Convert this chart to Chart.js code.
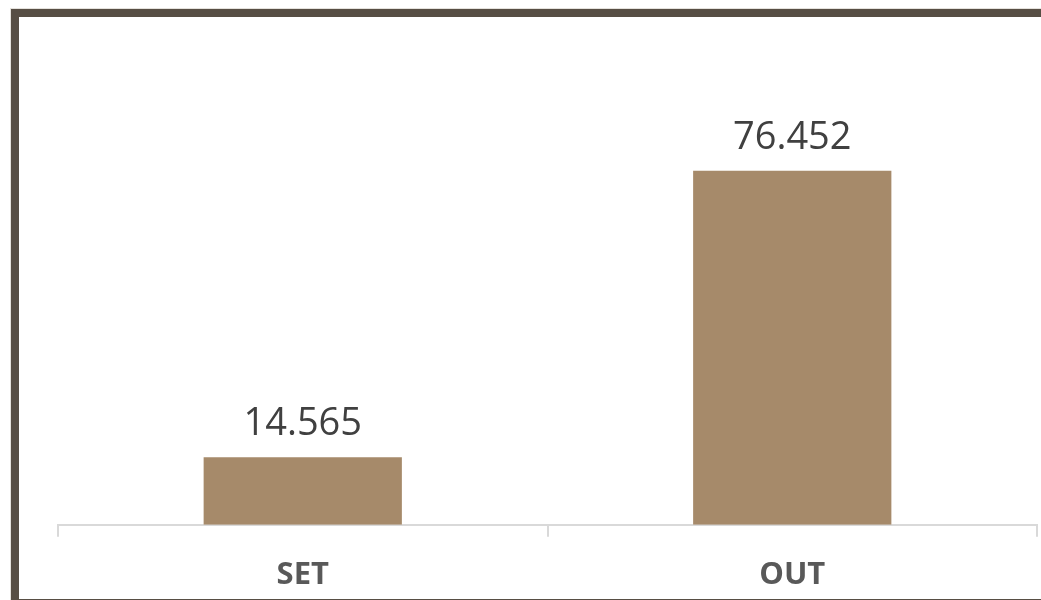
<!DOCTYPE html>
<html>
<head>
<meta charset="utf-8">
<script src="https://cdn.jsdelivr.net/npm/chart.js@4/dist/chart.umd.min.js"></script>
<style>
  html, body { margin: 0; padding: 0; background: #ffffff; overflow: hidden; }
  body { width: 1041px; height: 600px; position: relative; }
  #frame {
    position: absolute; left: 11px; top: 9px;
    width: 1100px; height: 582px;
    border: 8px solid #574e44;
    box-shadow: -1px -1px 0 #e4e1dc;
    pointer-events: none;
  }
  #wrap { position: absolute; left: 0; top: 0; width: 1041px; height: 624px; }
</style>
</head>
<body>
<div id="wrap"><canvas id="c" width="1041" height="624"></canvas></div>
<div id="frame"></div>
<script>
const categories = ["SET", "OUT"];
const values = [14.565, 76.452];
const valueLabels = ["14.565", "76.452"];

const barLabelPlugin = {
  id: 'barLabels',
  afterDatasetsDraw(chart) {
    const ctx = chart.ctx;
    const meta = chart.getDatasetMeta(0);
    ctx.save();
    ctx.font = '38px "Open Sans", sans-serif';
    ctx.fillStyle = '#404040';
    ctx.textAlign = 'center';
    ctx.textBaseline = 'alphabetic';
    meta.data.forEach((bar, i) => {
      ctx.fillText(valueLabels[i], bar.x, bar.y - 22);
    });
    ctx.restore();
  }
};

new Chart(document.getElementById('c'), {
  type: 'bar',
  data: {
    labels: categories,
    datasets: [{
      data: values,
      backgroundColor: '#a68a6a',
      borderWidth: 0,
      categoryPercentage: 1,
      barPercentage: 0.405
    }]
  },
  options: {
    responsive: false,
    animation: false,
    devicePixelRatio: 1,
    layout: { padding: { left: 58, right: 4, top: 108, bottom: 10 } },
    plugins: { legend: { display: false }, tooltip: { enabled: false } },
    scales: {
      y: { display: false, min: 0, max: 90 },
      x: {
        grid: {
          offset: true,
          drawOnChartArea: false,
          drawTicks: true,
          tickLength: 12,
          color: '#d9d9d9',
          lineWidth: 2
        },
        border: { display: true, color: '#d9d9d9', width: 2 },
        ticks: {
          color: '#595959',
          padding: 20,
          font: { family: '"Open Sans", sans-serif', size: 31, weight: 'bold' }
        }
      }
    }
  },
  plugins: [barLabelPlugin]
});
</script>
</body>
</html>
